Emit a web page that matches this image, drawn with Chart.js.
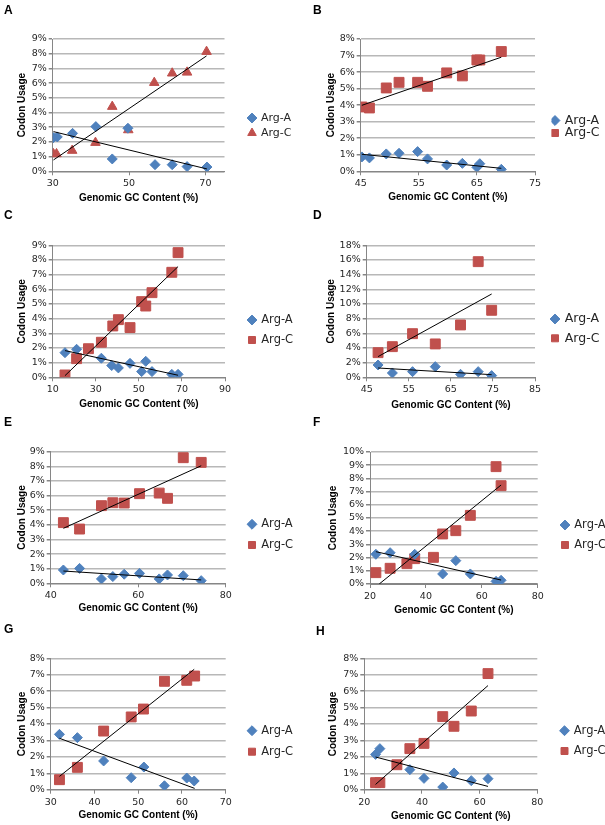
<!DOCTYPE html>
<html><head><meta charset="utf-8">
<script src="https://cdn.jsdelivr.net/npm/chart.js@4/dist/chart.umd.min.js"></script>
<style>
html,body{margin:0;padding:0;background:#fff;}
#wrap{position:relative;width:605px;height:825px;overflow:hidden;background:#fff;}
canvas{position:absolute;}
.lbl{position:absolute;font:bold 12px "Liberation Sans",Arial,sans-serif;line-height:12px;color:#000;}
</style></head><body><div id="wrap"></div>
<script>
// ---------- DATA ----------
// Panel A
const A_argA_gc  = [30.2, 31.2, 35.2, 41.3, 45.6, 49.7, 56.8, 61.3, 65.2, 70.4];
const A_argA_use = [2.29, 2.34, 2.58, 3.04, 0.84, 2.93, 0.45, 0.45, 0.32, 0.29];
const A_argC_gc  = [30.2, 31.0, 35.1, 41.2, 45.6, 49.8, 56.6, 61.3, 65.2, 70.3];
const A_argC_use = [1.18, 1.18, 1.41, 1.95, 4.40, 2.81, 6.03, 6.67, 6.73, 8.14];
const A_fitA_gc  = [30.2, 70.4];
const A_fitA_use = [2.70, 0.16];
const A_fitC_gc  = [30.2, 70.3];
const A_fitC_use = [0.77, 7.85];
const A_xTicks = [30, 50, 70];
const A_xRange = [30, 75];
const A_yTicks = [0, 1, 2, 3, 4, 5, 6, 7, 8, 9];
// Panel B
const B_argA_gc  = [45.2, 46.5, 49.4, 51.6, 54.8, 56.5, 59.8, 62.5, 65.0, 65.5, 69.2];
const B_argA_use = [0.87, 0.81, 1.05, 1.09, 1.19, 0.75, 0.38, 0.48, 0.24, 0.46, 0.12];
const B_argC_gc  = [45.2, 46.5, 49.4, 51.6, 54.8, 56.5, 59.8, 62.5, 65.0, 65.5, 69.2];
const B_argC_use = [3.89, 3.83, 5.04, 5.38, 5.38, 5.14, 5.95, 5.77, 6.73, 6.73, 7.24];
const B_fitA_gc  = [45.2, 69.2];
const B_fitA_use = [1.03, 0.18];
const B_fitC_gc  = [45.2, 69.2];
const B_fitC_use = [3.99, 6.90];
const B_xTicks = [45, 55, 65, 75];
const B_xRange = [45, 75];
const B_yTicks = [0, 1, 2, 3, 4, 5, 6, 7, 8];
// Panel C
const C_argA_gc  = [15.7, 21.1, 32.6, 37.4, 40.5, 45.9, 51.3, 53.2, 56.1, 65.3, 68.2];
const C_argA_use = [1.68, 1.91, 1.30, 0.80, 0.64, 0.95, 0.39, 1.09, 0.39, 0.20, 0.20];
const C_argC_gc  = [15.7, 21.1, 26.6, 32.6, 37.9, 40.5, 45.9, 51.3, 53.2, 56.1, 65.3, 68.2];
const C_argC_use = [0.16, 1.27, 1.95, 2.39, 3.50, 3.93, 3.39, 5.16, 4.86, 5.77, 7.16, 8.50];
const C_fitA_gc  = [15.7, 68.2];
const C_fitA_use = [1.82, 0.14];
const C_fitC_gc  = [15.7, 68.2];
const C_fitC_use = [0.11, 7.55];
const C_xTicks = [10, 30, 50, 70, 90];
const C_xRange = [10, 90];
const C_yTicks = [0, 1, 2, 3, 4, 5, 6, 7, 8, 9];
// Panel D
const D_argA_gc  = [47.7, 51.1, 55.9, 61.3, 67.3, 71.5, 74.7];
const D_argA_use = [1.68, 0.59, 0.77, 1.45, 0.41, 0.77, 0.23];
const D_argC_gc  = [47.7, 51.1, 55.9, 61.3, 67.3, 71.5, 74.7];
const D_argC_use = [3.36, 4.18, 5.95, 4.55, 7.14, 15.77, 9.14];
const D_fitA_gc  = [47.7, 74.7];
const D_fitA_use = [1.27, 0.36];
const D_fitC_gc  = [47.7, 74.7];
const D_fitC_use = [2.82, 11.36];
const D_xTicks = [45, 55, 65, 75, 85];
const D_xRange = [45, 85];
const D_yTicks = [0, 2, 4, 6, 8, 10, 12, 14, 16, 18];
// Panel E
const E_argA_gc  = [42.9, 46.6, 51.6, 54.2, 56.8, 60.3, 64.8, 66.7, 70.3, 74.4];
const E_argA_use = [0.91, 1.02, 0.30, 0.46, 0.62, 0.68, 0.30, 0.57, 0.52, 0.18];
const E_argC_gc  = [42.9, 46.6, 51.6, 54.2, 56.8, 60.3, 64.8, 66.7, 70.3, 74.4];
const E_argC_use = [4.15, 3.71, 5.31, 5.51, 5.49, 6.13, 6.17, 5.81, 8.59, 8.27];
const E_fitA_gc  = [42.9, 74.4];
const E_fitA_use = [0.84, 0.23];
const E_fitC_gc  = [42.9, 74.4];
const E_fitC_use = [3.76, 8.04];
const E_xTicks = [40, 60, 80];
const E_xRange = [40, 80];
const E_yTicks = [0, 1, 2, 3, 4, 5, 6, 7, 8, 9];
// Panel F
const F_argA_gc  = [22.1, 27.2, 36.0, 46.0, 50.7, 55.9, 65.1, 66.9];
const F_argA_use = [2.25, 2.37, 2.25, 0.76, 1.77, 0.76, 0.20, 0.28];
const F_argC_gc  = [22.1, 27.2, 33.2, 36.0, 42.7, 46.0, 50.7, 55.9, 65.1, 66.9];
const F_argC_use = [0.86, 1.19, 1.54, 1.92, 2.02, 3.79, 4.04, 5.20, 8.89, 7.45];
const F_fitA_gc  = [22.1, 66.9];
const F_fitA_use = [2.45, 0.30];
const F_fitC_gc  = [23.3, 66.9];
const F_fitC_use = [0.00, 7.50];
const F_xTicks = [20, 40, 60, 80];
const F_xRange = [20, 80];
const F_yTicks = [0, 1, 2, 3, 4, 5, 6, 7, 8, 9, 10];
// Panel G
const G_argA_gc  = [32.0, 36.1, 42.1, 48.4, 51.3, 56.0, 61.1, 62.8];
const G_argA_use = [3.37, 3.17, 1.75, 0.73, 1.38, 0.24, 0.71, 0.53];
const G_argC_gc  = [32.0, 36.1, 42.1, 48.4, 51.2, 56.0, 61.1, 62.9];
const G_argC_use = [0.61, 1.36, 3.57, 4.43, 4.91, 6.60, 6.66, 6.92];
const G_fitA_gc  = [32.0, 62.9];
const G_fitA_use = [3.13, 0.08];
const G_fitC_gc  = [32.0, 62.8];
const G_fitC_use = [0.81, 7.33];
const G_xTicks = [30, 40, 50, 60, 70];
const G_xRange = [30, 70];
const G_yTicks = [0, 1, 2, 3, 4, 5, 6, 7, 8];
// Panel H
const H_argA_gc  = [23.9, 25.4, 35.8, 40.7, 47.2, 51.1, 57.1, 62.9];
const H_argA_use = [2.15, 2.50, 1.22, 0.69, 0.16, 1.02, 0.55, 0.67];
const H_argC_gc  = [23.9, 25.4, 31.3, 35.8, 40.7, 47.2, 51.1, 57.1, 62.9];
const H_argC_use = [0.43, 0.43, 1.52, 2.50, 2.82, 4.45, 3.86, 4.79, 7.07];
const H_fitA_gc  = [23.9, 62.9];
const H_fitA_use = [1.99, 0.20];
const H_fitC_gc  = [23.9, 62.9];
const H_fitC_use = [0.32, 6.34];
const H_xTicks = [20, 40, 60, 80];
const H_xRange = [20, 80];
const H_yTicks = [0, 1, 2, 3, 4, 5, 6, 7, 8];

const seriesNames = ['Arg-A', 'Arg-C'];
const xTitle = 'Genomic GC Content (%)';
const yTitle = 'Codon Usage';

// ---------- STYLE / LAYOUT ----------
const BLUE = '#4F81BD', RED = '#C0504D', GRID = '#B8B8B8', AXIS = '#868686', TXT = '#262626';
const TICK_FONT = {family: 'DejaVu Sans', size: 9.5};

const panels = [
  {id:'A', x0:0,   y0:0,   w:300, h:205, left:52.7, right:224.5, top:39,   bottom:171.3, ytx:22,   xty:198,   lx:252,   ly:118,   gap:15,   lfs:11,   lbl:[4,3.5],   cShape:'triangle', cR:5.5,
   aGc:A_argA_gc, aU:A_argA_use, cGc:A_argC_gc, cU:A_argC_use, faGc:A_fitA_gc, faU:A_fitA_use, fcGc:A_fitC_gc, fcU:A_fitC_use, xt:A_xTicks, xr:A_xRange, yt:A_yTicks},
  {id:'B', x0:300, y0:0,   w:305, h:205, left:60.7, right:235,   top:39,   bottom:171.3, ytx:31,   xty:197.3, lx:255,   ly:120.5, gap:12,   lfs:12.5, lbl:[13,3.5],  cShape:'rect', cR:7,
   aGc:B_argA_gc, aU:B_argA_use, cGc:B_argC_gc, cU:B_argC_use, faGc:B_fitA_gc, faU:B_fitA_use, fcGc:B_fitC_gc, fcU:B_fitC_use, xt:B_xTicks, xr:B_xRange, yt:B_yTicks},
  {id:'C', x0:0,   y0:205, w:300, h:205, left:52.7, right:225,   top:40.3, bottom:172.3, ytx:22,   xty:199,   lx:252,   ly:115,   gap:20,   lfs:11.5, lbl:[4,3.5],   cShape:'rect', cR:7,
   aGc:C_argA_gc, aU:C_argA_use, cGc:C_argC_gc, cU:C_argC_use, faGc:C_fitA_gc, faU:C_fitA_use, fcGc:C_fitC_gc, fcU:C_fitC_use, xt:C_xTicks, xr:C_xRange, yt:C_yTicks},
  {id:'D', x0:300, y0:205, w:305, h:205, left:66.7, right:235,   top:40.3, bottom:172.3, ytx:31,   xty:200,   lx:255,   ly:114,   gap:19.3, lfs:12.5, lbl:[13,3.5],  cShape:'rect', cR:7,
   aGc:D_argA_gc, aU:D_argA_use, cGc:D_argC_gc, cU:D_argC_use, faGc:D_fitA_gc, faU:D_fitA_use, fcGc:D_fitC_gc, fcU:D_fitC_use, xt:D_xTicks, xr:D_xRange, yt:D_yTicks},
  {id:'E', x0:0,   y0:410, w:300, h:205, left:50.7, right:225.7, top:41.7, bottom:173.3, ytx:22,   xty:198,   lx:252,   ly:114.3, gap:20.7, lfs:11.5, lbl:[4,5.5],   cShape:'rect', cR:7,
   aGc:E_argA_gc, aU:E_argA_use, cGc:E_argC_gc, cU:E_argC_use, faGc:E_fitA_gc, faU:E_fitA_use, fcGc:E_fitC_gc, fcU:E_fitC_use, xt:E_xTicks, xr:E_xRange, yt:E_yTicks},
  {id:'F', x0:300, y0:410, w:305, h:205, left:70,   right:237.7, top:42,   bottom:174,   ytx:33.3, xty:200,   lx:265,   ly:115,   gap:20,   lfs:11.5, lbl:[13,5.5],  cShape:'rect', cR:7,
   aGc:F_argA_gc, aU:F_argA_use, cGc:F_argC_gc, cU:F_argC_use, faGc:F_fitA_gc, faU:F_fitA_use, fcGc:F_fitC_gc, fcU:F_fitC_use, xt:F_xTicks, xr:F_xRange, yt:F_yTicks},
  {id:'G', x0:0,   y0:615, w:300, h:210, left:50.7, right:225.7, top:43.3, bottom:174.7, ytx:22,   xty:200,   lx:252,   ly:115.7, gap:21,   lfs:11.5, lbl:[4,7.5],   cShape:'rect', cR:7,
   aGc:G_argA_gc, aU:G_argA_use, cGc:G_argC_gc, cU:G_argC_use, faGc:G_fitA_gc, faU:G_fitA_use, fcGc:G_fitC_gc, fcU:G_fitC_use, xt:G_xTicks, xr:G_xRange, yt:G_yTicks},
  {id:'H', x0:300, y0:615, w:305, h:210, left:64.3, right:237.3, top:43.3, bottom:174.7, ytx:33.3, xty:201.7, lx:264.5, ly:115.7, gap:20.3, lfs:11.5, lbl:[16,9.5],  cShape:'rect', cR:7,
   aGc:H_argA_gc, aU:H_argA_use, cGc:H_argC_gc, cU:H_argC_use, faGc:H_fitA_gc, faU:H_fitA_use, fcGc:H_fitC_gc, fcU:H_fitC_use, xt:H_xTicks, xr:H_xRange, yt:H_yTicks}
];

function pts(xs, ys) { return xs.map((x, i) => ({x: x, y: ys[i]})); }

const BOXW = 7;
const legendPlace = {
  id: 'legendPlace',
  beforeLayout(chart) {
    const lg = chart.legend;
    if (lg && !lg._patched) {
      const fit = lg.fit;
      lg.fit = function () { fit.call(this); this.width = 0; };
      lg._patched = true;
    }
  },
  afterLayout(chart, args, opts) {
    const lg = chart.legend;
    const pad = opts.pad;
    lg.left = opts.x - BOXW / 2 - pad;
    lg.right = chart.width + 40; lg.width = lg.right - lg.left;
    lg.top = opts.y - opts.fs / 2 - pad;
    lg.bottom = chart.height; lg.height = lg.bottom - lg.top;
  }
};

const wrap = document.getElementById('wrap');
panels.forEach(p => {
  const cv = document.createElement('canvas');
  cv.width = p.w; cv.height = p.h;
  cv.style.left = p.x0 + 'px'; cv.style.top = p.y0 + 'px';
  cv.style.width = p.w + 'px'; cv.style.height = p.h + 'px';
  wrap.appendChild(cv);
  const lab = document.createElement('div');
  lab.className = 'lbl'; lab.textContent = p.id;
  lab.style.left = (p.x0 + p.lbl[0]) + 'px'; lab.style.top = (p.y0 + p.lbl[1]) + 'px';
  wrap.appendChild(lab);

  const pad = Math.max(0, p.gap - p.lfs);
  new Chart(cv, {
    type: 'scatter',
    data: {
      datasets: [
        {label: seriesNames[0], data: pts(p.aGc, p.aU), pointStyle: 'rectRot', pointRadius: 5,
         backgroundColor: BLUE, borderColor: BLUE, borderWidth: 1, order: 1},
        {label: seriesNames[1], data: pts(p.cGc, p.cU), pointStyle: p.cShape, pointRadius: p.cR,
         backgroundColor: RED, borderColor: RED, borderWidth: 1, order: 1},
        {label: 'fitA', data: pts(p.faGc, p.faU), showLine: true, pointRadius: 0,
         borderColor: '#000', borderWidth: 1, backgroundColor: '#000', order: 0},
        {label: 'fitC', data: pts(p.fcGc, p.fcU), showLine: true, pointRadius: 0,
         borderColor: '#000', borderWidth: 1, backgroundColor: '#000', order: 0}
      ]
    },
    options: {
      responsive: false, animation: false, devicePixelRatio: 1, events: [],
      layout: {padding: {left: 0, top: p.top, right: p.w - p.right, bottom: 0}},
      plugins: {
        tooltip: {enabled: false},
        title: {display: false},
        legendPlace: {x: p.lx, y: p.ly, pad: pad, fs: p.lfs},
        legend: {
          display: true, position: 'right', align: 'start',
          labels: {
            usePointStyle: true, boxWidth: BOXW, boxHeight: BOXW, padding: pad,
            font: {family: 'DejaVu Sans', size: p.lfs}, color: TXT,
            filter: (item) => item.datasetIndex < 2
          }
        }
      },
      scales: {
        x: {
          type: 'linear', position: 'bottom', min: p.xr[0], max: p.xr[1],
          afterBuildTicks: s => { s.ticks = p.xt.map(v => ({value: v})); },
          afterFit: s => { s.height = p.h - p.bottom; },
          grid: {drawOnChartArea: false, drawTicks: true, tickLength: 4, tickColor: AXIS, color: AXIS},
          border: {display: true, color: AXIS, width: 1},
          ticks: {font: TICK_FONT, color: TXT, padding: 3, maxRotation: 0, autoSkip: false,
                  callback: v => String(v)},
          title: {display: true, text: xTitle, color: '#000',
                  font: {family: 'Liberation Sans', size: 10, weight: 'bold'},
                  padding: {top: 0, bottom: p.h - 6 - p.xty}}
        },
        y: {
          type: 'linear', position: 'left', min: 0, max: p.yt[p.yt.length - 1],
          afterBuildTicks: s => { s.ticks = p.yt.map(v => ({value: v})); },
          afterFit: s => { s.width = p.left; },
          grid: {color: c => (c.tick && c.tick.value === 0) ? AXIS : GRID, lineWidth: 1.5,
                 drawTicks: true, tickLength: 4, tickColor: AXIS},
          border: {display: true, color: AXIS, width: 1},
          ticks: {font: TICK_FONT, color: TXT, padding: 2, autoSkip: false,
                  callback: v => v + '%'},
          title: {display: true, text: yTitle, color: '#000',
                  font: {family: 'Liberation Sans', size: 10, weight: 'bold'},
                  padding: {top: p.ytx - 6, bottom: 0}}
        }
      }
    },
    plugins: [legendPlace]
  });
});
</script></body></html>
